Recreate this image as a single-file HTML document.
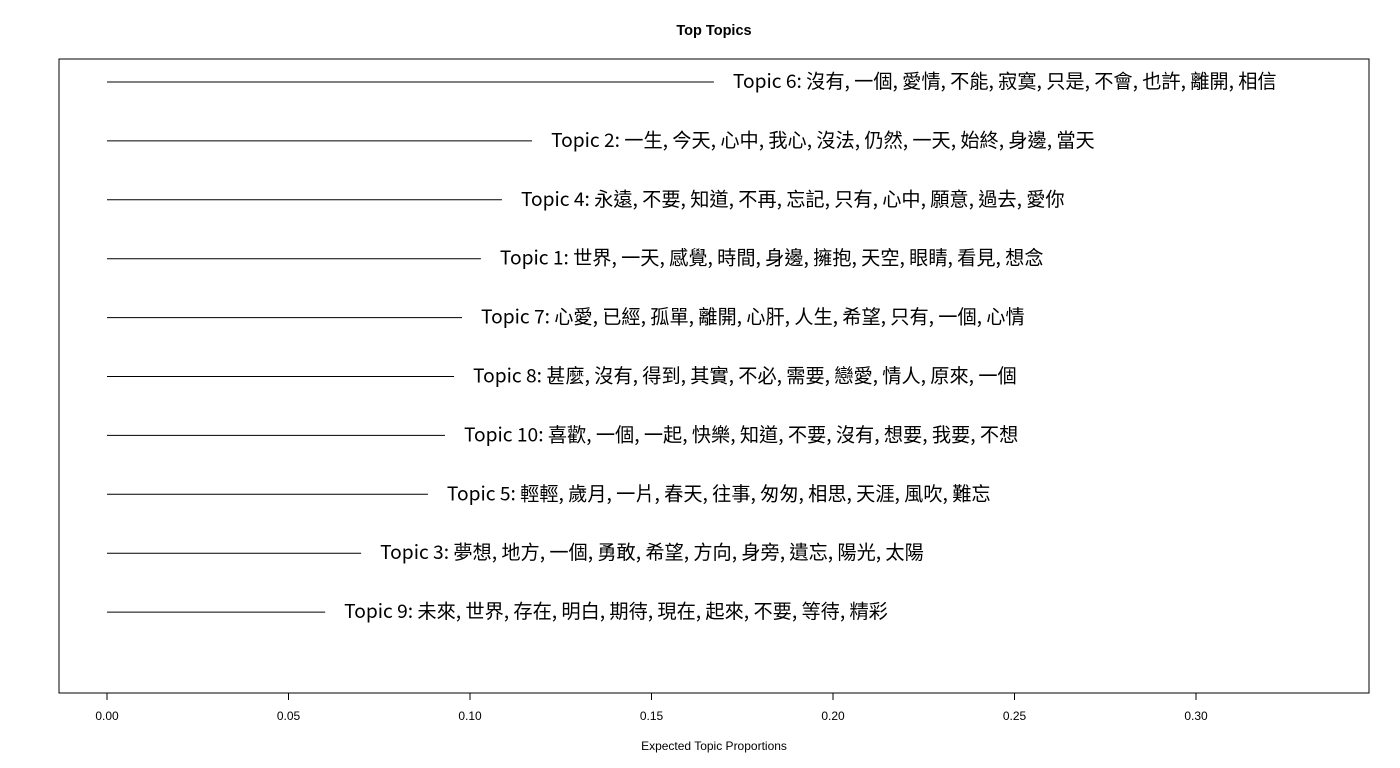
<!DOCTYPE html>
<html><head><meta charset="utf-8"><style>
html,body{margin:0;padding:0;background:#fff;}
svg{display:block;font-family:"Liberation Sans","Noto Sans CJK TC",sans-serif;}
.lab{font-family:"Noto Sans CJK TC","Liberation Sans",sans-serif;}
</style></head><body>
<svg id="chart" width="1400" height="768">
<text x="714" y="35" text-anchor="middle" font-weight="bold" font-size="14.5">Top Topics</text>
<rect x="59" y="59" width="1310" height="634" fill="none" stroke="#000" stroke-width="1"/>
<g id="marks"></g>
<g id="xaxis"></g>
<text x="714" y="750" text-anchor="middle" font-size="12">Expected Topic Proportions</text>
</svg>
<script>
const topics = ["Topic 6","Topic 2","Topic 4","Topic 1","Topic 7","Topic 8","Topic 10","Topic 5","Topic 3","Topic 9"];
const words = [
"沒有, 一個, 愛情, 不能, 寂寞, 只是, 不會, 也許, 離開, 相信",
"一生, 今天, 心中, 我心, 沒法, 仍然, 一天, 始終, 身邊, 當天",
"永遠, 不要, 知道, 不再, 忘記, 只有, 心中, 願意, 過去, 愛你",
"世界, 一天, 感覺, 時間, 身邊, 擁抱, 天空, 眼睛, 看見, 想念",
"心愛, 已經, 孤單, 離開, 心肝, 人生, 希望, 只有, 一個, 心情",
"甚麼, 沒有, 得到, 其實, 不必, 需要, 戀愛, 情人, 原來, 一個",
"喜歡, 一個, 一起, 快樂, 知道, 不要, 沒有, 想要, 我要, 不想",
"輕輕, 歲月, 一片, 春天, 往事, 匆匆, 相思, 天涯, 風吹, 難忘",
"夢想, 地方, 一個, 勇敢, 希望, 方向, 身旁, 遺忘, 陽光, 太陽",
"未來, 世界, 存在, 明白, 期待, 現在, 起來, 不要, 等待, 精彩"];
const proportions = [0.1672,0.1171,0.1088,0.1030,0.0978,0.0956,0.0931,0.0884,0.0700,0.0601];
const ticks = [0,0.05,0.10,0.15,0.20,0.25,0.30];
const tickLabels = ["0.00","0.05","0.10","0.15","0.20","0.25","0.30"];
const NS="http://www.w3.org/2000/svg";
const xs = v => 107 + v*(1196-107)/0.30;
const ys = i => 82 + i*58.9;
const marks=document.getElementById('marks');
proportions.forEach((p,i)=>{
  const l=document.createElementNS(NS,'line');
  l.setAttribute('x1',xs(0));l.setAttribute('x2',xs(p));
  l.setAttribute('y1',ys(i));l.setAttribute('y2',ys(i));
  l.setAttribute('stroke','#000');l.setAttribute('stroke-width','1');
  
  
  marks.appendChild(l);
  const t=document.createElementNS(NS,'text');
  t.setAttribute('x',xs(p)+19);t.setAttribute('y',ys(i)+6);
  t.setAttribute('font-size','19.2');
  t.setAttribute('class','lab');
  t.textContent=topics[i]+": "+words[i];
  
  
  marks.appendChild(t);
});
const ax=document.getElementById('xaxis');
const base=document.createElementNS(NS,'line');
base.setAttribute('x1',xs(ticks[0]));base.setAttribute('x2',xs(ticks[ticks.length-1]));
base.setAttribute('y1',693);base.setAttribute('y2',693);base.setAttribute('stroke','#000');


ax.appendChild(base);
ticks.forEach((v,i)=>{
  const l=document.createElementNS(NS,'line');
  l.setAttribute('x1',xs(v));l.setAttribute('x2',xs(v));
  l.setAttribute('y1',693);l.setAttribute('y2',700);l.setAttribute('stroke','#000');
  
  
  ax.appendChild(l);
  const t=document.createElementNS(NS,'text');
  t.setAttribute('x',xs(v));t.setAttribute('y',720);
  t.setAttribute('text-anchor','middle');t.setAttribute('font-size','12');
  t.textContent=tickLabels[i];
  
  
  ax.appendChild(t);
});
</script>
</body></html>
